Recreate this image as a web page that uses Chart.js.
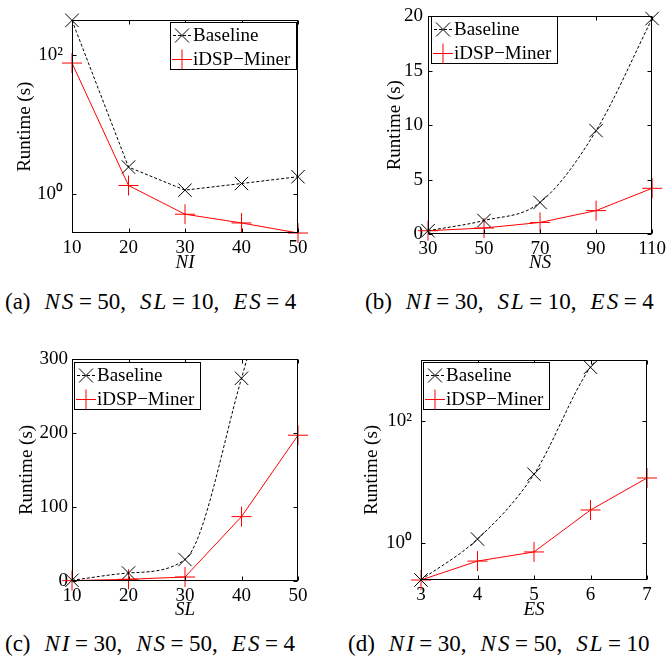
<!DOCTYPE html>
<html>
<head>
<meta charset="utf-8">
<script src="https://cdn.jsdelivr.net/npm/chart.js@4/dist/chart.umd.min.js"></script>
<style>
  body { margin: 0; background: #fff; width: 670px; height: 664px; position: relative; overflow: hidden; font-family: 'Liberation Serif', 'Times New Roman', serif; }
  canvas { position: absolute; }
  .cap { position: absolute; font-size: 23px; line-height: 26px; white-space: nowrap; color: #000; }
  .cap i { font-family: 'Liberation Serif', serif; letter-spacing: 2px; margin-right: -2px; margin-left: 14px; }
  .cap b { font-weight: normal; margin: 0 5.5px; }
</style>
</head>
<body>
<canvas id="chartA" width="335" height="274" style="left:0;top:0"></canvas>
<canvas id="chartB" width="335" height="274" style="left:335px;top:0"></canvas>
<canvas id="chartC" width="335" height="291" style="left:0;top:330px"></canvas>
<canvas id="chartD" width="335" height="291" style="left:335px;top:330px"></canvas>

<div class="cap" style="left:5px;top:289px"><span>(a)</span><i>NS</i><b>=</b><span>50,</span><i>SL</i><b>=</b><span>10,</span><i>ES</i><b>=</b><span>4</span></div>
<div class="cap" style="left:365px;top:289px"><span>(b)</span><i>NI</i><b>=</b><span>30,</span><i>SL</i><b>=</b><span>10,</span><i>ES</i><b>=</b><span>4</span></div>
<div class="cap" style="left:5px;top:631px"><span>(c)</span><i>NI</i><b>=</b><span>30,</span><i>NS</i><b>=</b><span>50,</span><i>ES</i><b>=</b><span>4</span></div>
<div class="cap" style="left:348px;top:631px"><span>(d)</span><i>NI</i><b>=</b><span>30,</span><i>NS</i><b>=</b><span>50,</span><i>SL</i><b>=</b><span>10</span></div>

<script>
// (a) varying NI, log scale
const niValues = [10, 20, 30, 40, 50];
const baselineNI = [310, 2.46, 1.15, 1.43, 1.79];
const minerNI = [76, 1.34, 0.52, 0.39, 0.28];

// (b) varying NS
const nsValues = [30, 50, 70, 90, 110];
const baselineNS = [0.3, 1.24, 2.9, 9.5, 19.8];
const minerNS = [0.3, 0.55, 1.06, 2.15, 4.2];

// (c) varying SL (baseline at 50 is off the chart)
const slValues = [10, 20, 30, 40, 50];
const baselineSL = [1, 10.8, 29, 274, 560];
const minerSL = [0.5, 2.3, 5.4, 87, 197];

// (d) varying ES, log scale (baseline at 7 is off the chart)
const esValues = [3, 4, 5, 6, 7];
const baselineES = [0.25, 1.17, 13.5, 760, 5000];
const minerES = [0.25, 0.51, 0.72, 3.5, 11.7];

// tick values and labels
const ticksNI = [10, 20, 30, 40, 50];
const ticksNS = [30, 50, 70, 90, 110];
const ticksSL = [10, 20, 30, 40, 50];
const ticksES = [3, 4, 5, 6, 7];
const logTicks = [1, 100];
const logTickLabels = ['10\u2070', '10\u00b2'];
const ticksRuntimeNS = [0, 5, 10, 15, 20];
const ticksRuntimeSL = [0, 100, 200, 300];

const legendLabels = ['Baseline', 'iDSP\u2212Miner'];

const FONT = "'Liberation Serif', 'Times New Roman', serif";
const RED = '#ff0000';

// box, inward ticks and legend like a matlab axes
const matlabAxes = {
  id: 'matlabAxes',
  afterDraw(chart, args, opts) {
    const { ctx, chartArea: a, scales: { x, y } } = chart;
    const L = Math.round(a.left) + 0.5, R = Math.round(a.right) - 0.5;
    const T = Math.round(a.top) + 0.5, B = Math.round(a.bottom) - 0.5;
    ctx.save();
    ctx.strokeStyle = '#000';
    ctx.lineWidth = 1;
    ctx.setLineDash([]);
    ctx.strokeRect(L, T, R - L, B - T);
    ctx.beginPath();
    x.ticks.forEach(t => {
      const px = Math.round(x.getPixelForValue(t.value)) + 0.5;
      ctx.moveTo(px, B); ctx.lineTo(px, B - 4);
      ctx.moveTo(px, T); ctx.lineTo(px, T + 4);
    });
    y.ticks.forEach(t => {
      const py = Math.round(y.getPixelForValue(t.value)) + 0.5;
      ctx.moveTo(L, py); ctx.lineTo(L + 4, py);
      ctx.moveTo(R, py); ctx.lineTo(R - 4, py);
    });
    ctx.stroke();

    // legend
    const w = 126, h = 47;
    const bx = opts.side === 'right' ? Math.round(a.right) - opts.dx - w : Math.round(a.left) + opts.dx;
    const by = Math.round(a.top) + opts.dy;
    ctx.fillStyle = '#fff';
    ctx.fillRect(bx + 0.5, by + 0.5, w, h);
    ctx.strokeRect(bx + 0.5, by + 0.5, w, h);
    ctx.font = '19px ' + FONT;
    ctx.textBaseline = 'middle';
    ctx.textAlign = 'left';
    legendLabels.forEach((label, i) => {
      const ry = by + (i === 0 ? 13 : 37) + 0.5;
      const mx = bx + 12;
      ctx.strokeStyle = i === 0 ? '#000' : RED;
      ctx.setLineDash(i === 0 ? [3, 2] : []);
      ctx.beginPath();
      ctx.moveTo(bx + 3, ry); ctx.lineTo(bx + 21, ry);
      ctx.stroke();
      ctx.setLineDash([]);
      ctx.beginPath();
      if (i === 0) {
        ctx.moveTo(mx - 7, ry - 7); ctx.lineTo(mx + 7, ry + 7);
        ctx.moveTo(mx + 7, ry - 7); ctx.lineTo(mx - 7, ry + 7);
      } else {
        ctx.moveTo(mx - 10, ry); ctx.lineTo(mx + 10, ry);
        ctx.moveTo(mx, ry - 10); ctx.lineTo(mx, ry + 10);
      }
      ctx.stroke();
      ctx.fillStyle = '#000';
      ctx.fillText(label, bx + 23, ry + 1);
    });
    ctx.restore();
  }
};

const toPoints = (xs, ys, max) => xs.map((v, i) => ({ x: v, y: (max === undefined || ys[i] <= max) ? ys[i] : null }));

function makePanel(id, p) {
  const lineSets = [
    { data: toPoints(p.xs, p.baseline), borderColor: '#000', borderWidth: 1, borderDash: [3, 2],
      pointRadius: 0, cubicInterpolationMode: p.smooth ? 'monotone' : 'default', tension: 0 },
    { data: toPoints(p.xs, p.miner), borderColor: RED, borderWidth: 1, pointRadius: 0 },
    { data: toPoints(p.xs, p.baseline, p.yMax), showLine: false, clip: false, pointStyle: 'crossRot',
      pointRadius: 9.5, pointBorderColor: '#000', pointBorderWidth: 1, pointBackgroundColor: 'transparent' },
    { data: toPoints(p.xs, p.miner, p.yMax), showLine: false, clip: false, pointStyle: 'cross',
      pointRadius: 10, pointBorderColor: RED, pointBorderWidth: 1, pointBackgroundColor: 'transparent' }
  ];
  new Chart(document.getElementById(id), {
    type: 'line',
    data: { datasets: lineSets },
    options: {
      responsive: false,
      animation: false,
      events: [],
      layout: { padding: { left: 0, top: p.top, right: p.right, bottom: 0 } },
      plugins: {
        legend: { display: false },
        tooltip: { enabled: false },
        matlabAxes: p.legend
      },
      scales: {
        x: {
          type: 'linear',
          min: p.xs[0], max: p.xs[p.xs.length - 1],
          afterBuildTicks: s => { s.ticks = p.xTicks.map(v => ({ value: v })); },
          afterFit: s => { s.height = p.xH; },
          ticks: { font: { family: FONT, size: 19 }, color: '#000', padding: 4, maxRotation: 0, autoSkip: false },
          grid: { display: false, drawTicks: false },
          border: { display: false },
          title: { display: true, text: p.xTitle, color: '#000',
                   font: { family: FONT, size: 19, style: 'italic' }, padding: { top: 0, bottom: 0 } }
        },
        y: {
          type: p.log ? 'logarithmic' : 'linear',
          min: p.yMin, max: p.yMax,
          afterBuildTicks: s => { s.ticks = p.yTicks.map(v => ({ value: v })); },
          afterFit: s => { s.width = p.yW; },
          ticks: {
            font: { family: FONT, size: 19 }, color: '#000', padding: p.yPad, autoSkip: false,
            callback: v => p.yLabels ? p.yLabels[p.yTicks.indexOf(v)] : String(v)
          },
          grid: { display: false, drawTicks: false },
          border: { display: false },
          title: { display: true, text: 'Runtime (s)', color: '#000',
                   font: { family: FONT, size: 19 }, padding: { top: p.yTitlePad, bottom: 0 } }
        }
      }
    },
    plugins: [matlabAxes]
  });
}

makePanel('chartA', {
  xs: niValues, baseline: baselineNI, miner: minerNI, xTicks: ticksNI, xTitle: 'NI',
  log: true, yMin: 0.28, yMax: 310, yTicks: logTicks, yLabels: logTickLabels,
  top: 13, right: 37, yW: 72, xH: 41, yPad: 9, yTitlePad: 14, smooth: false,
  legend: { side: 'right', dx: 2, dy: 2 }
});
makePanel('chartB', {
  xs: nsValues, baseline: baselineNS, miner: minerNS, xTicks: ticksNS, xTitle: 'NS',
  log: false, yMin: 0, yMax: 20, yTicks: ticksRuntimeNS,
  top: 15, right: 15, yW: 93, xH: 40, yPad: 5, yTitlePad: 49, smooth: true,
  legend: { side: 'left', dx: 3, dy: 0 }
});
makePanel('chartC', {
  xs: slValues, baseline: baselineSL, miner: minerSL, xTicks: ticksSL, xTitle: 'SL',
  log: false, yMin: 0, yMax: 300, yTicks: ticksRuntimeSL,
  top: 29, right: 37, yW: 72, xH: 40, yPad: 4, yTitlePad: 16, smooth: true,
  legend: { side: 'left', dx: 2, dy: 3 }
});
makePanel('chartD', {
  xs: esValues, baseline: baselineES, miner: minerES, xTicks: ticksES, xTitle: 'ES',
  log: true, yMin: 0.25, yMax: 1000, yTicks: logTicks, yLabels: logTickLabels,
  top: 30, right: 23, yW: 86, xH: 41, yPad: 9, yTitlePad: 26, smooth: true,
  legend: { side: 'left', dx: 2, dy: 2 }
});
</script>
</body>
</html>
